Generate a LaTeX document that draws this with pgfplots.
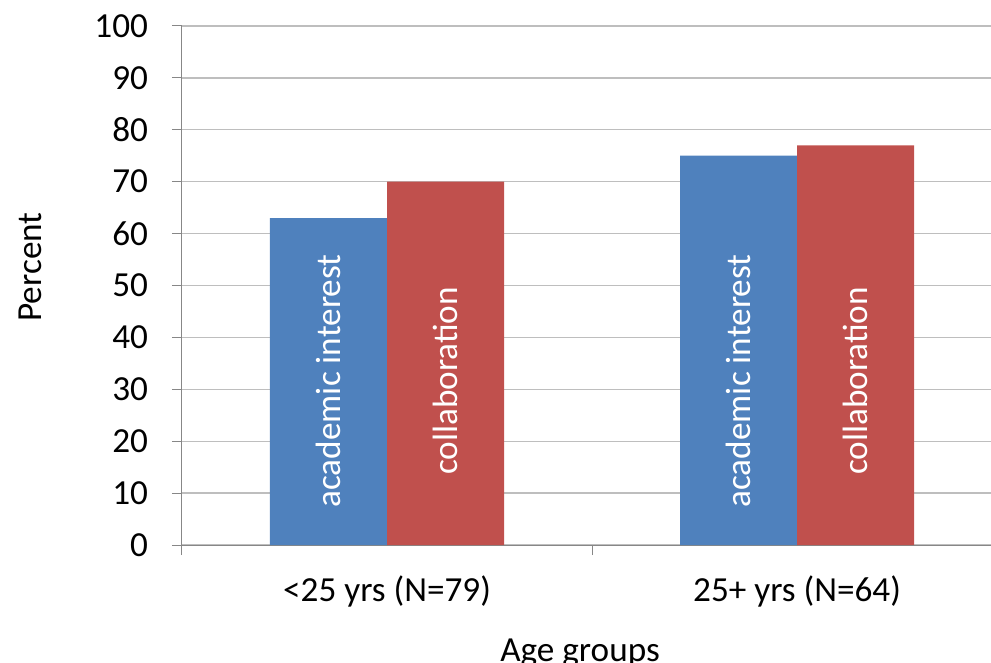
\documentclass[border=0pt]{standalone}
\usepackage{fontspec}
\setmainfont{Carlito}
\usepackage{pgfplots}
\pgfplotsset{compat=1.18}
\definecolor{xlblue}{HTML}{4F81BD}
\definecolor{xlred}{HTML}{C0504D}
\definecolor{gridgray}{HTML}{BEBEBE}
\definecolor{axisgray}{HTML}{878787}
\begin{document}
\fontsize{26.4}{31}\selectfont
\begin{tikzpicture}
\begin{axis}[
    scale only axis,
    width=606.75pt, height=389.25pt,
    at={(0pt,0pt)}, anchor=south west,
    xmin=-0.5, xmax=1.473,
    ymin=0, ymax=100,
    axis x line*=bottom, axis y line*=left,
    axis line style={draw=axisgray, line width=0.75pt},
    ytick={0,10,...,100},
    xtick={0,1},
    xticklabels={{<25 yrs (N=79)}, {25+ yrs (N=64)}},
    minor xtick={-0.5,0.5},
    major x tick style={draw=none},
    minor x tick style={draw=axisgray, line width=0.75pt},
    y tick style={draw=axisgray, line width=0.75pt},
    tick align=outside,
    major tick length=7.5pt, minor tick length=7.5pt,
    ymajorgrids,
    grid style={draw=gridgray, line width=1pt},
    /pgf/number format/assume math mode=true,
    every tick label/.append style={font=\fontsize{26.4}{31}\selectfont},
    xticklabel style={anchor=base, yshift=-35pt},
    yticklabel style={xshift=-9pt},
    every axis x label/.style={at={(rel axis cs:0.492,-0.2254)}, anchor=base},
    every axis y label/.style={at={(rel axis cs:-0.1879,0.5356)}, anchor=center, rotate=90},
    xlabel={Age groups},
    ylabel={Percent},
]
\addplot[ybar, bar width=0.2854, bar shift=-0.1427, fill=xlblue, draw=none]
    coordinates {(0,63) (1,75)};
\addplot[ybar, bar width=0.2854, bar shift=0.1427, fill=xlred, draw=none]
    coordinates {(0,70) (1,77)};
\node[rotate=90, white] at (axis cs:-0.1427,31.6) {academic interest};
\node[rotate=90, white] at (axis cs:0.1427,31.6) {collaboration};
\node[rotate=90, white] at (axis cs:0.8573,31.6) {academic interest};
\node[rotate=90, white] at (axis cs:1.1427,31.6) {collaboration};
\end{axis}
\pgfresetboundingbox
\path (-136.5pt,-88.5pt) rectangle (606.75pt,408.75pt);
\end{tikzpicture}
\end{document}
